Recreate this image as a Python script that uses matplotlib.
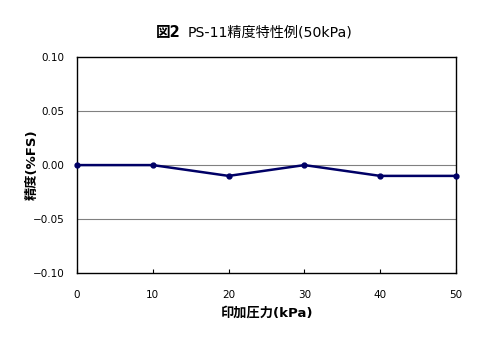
import matplotlib
matplotlib.use('Agg')
import matplotlib.pyplot as plt

plt.rcParams['font.family'] = ['DejaVu Sans', 'Noto Sans CJK JP']

pressure = [0, 10, 20, 30, 40, 50]
accuracy = [0.0, 0.0, -0.01, 0.0, -0.01, -0.01]
xticks = [0, 10, 20, 30, 40, 50]
yticks = [-0.10, -0.05, 0.00, 0.05, 0.10]

fig = plt.figure(figsize=(5, 3.52), dpi=100)
ax = fig.add_axes([0.154, 0.224, 0.758, 0.614])

for y in [-0.05, 0.0, 0.05]:
    ax.axhline(y, color='#808080', lw=0.8, zorder=1)
ax.plot(pressure, accuracy, color='#000066', lw=1.8, marker='o', ms=3.5, zorder=3, clip_on=False)

ax.set_xlim(0, 50)
ax.set_ylim(-0.10, 0.10)
ax.set_xticks(xticks)
ax.set_yticks(yticks)
ax.set_yticklabels(['\u22120.10', '\u22120.05', '0.00', '0.05', '0.10'])
ax.tick_params(axis='x', direction='in', length=3, pad=12, labelsize=7.5)
ax.tick_params(axis='y', length=0, pad=9, labelsize=7.5)
for s in ax.spines.values():
    s.set_linewidth(1.0)
    s.set_color('black')

ax.set_xlabel('印加圧力(kPa)', fontsize=9.5, fontweight='bold', labelpad=5)
ax.set_ylabel('精度(%FS)', fontsize=9.5, fontweight='bold', labelpad=-4)

fig.text(0.362, 0.908, '図2', fontsize=10.5, fontweight='bold', ha='right', va='center')
fig.text(0.376, 0.908, 'PS-11精度特性例(50kPa)', fontsize=10.2, ha='left', va='center')

fig.savefig('out.png', dpi=100)
